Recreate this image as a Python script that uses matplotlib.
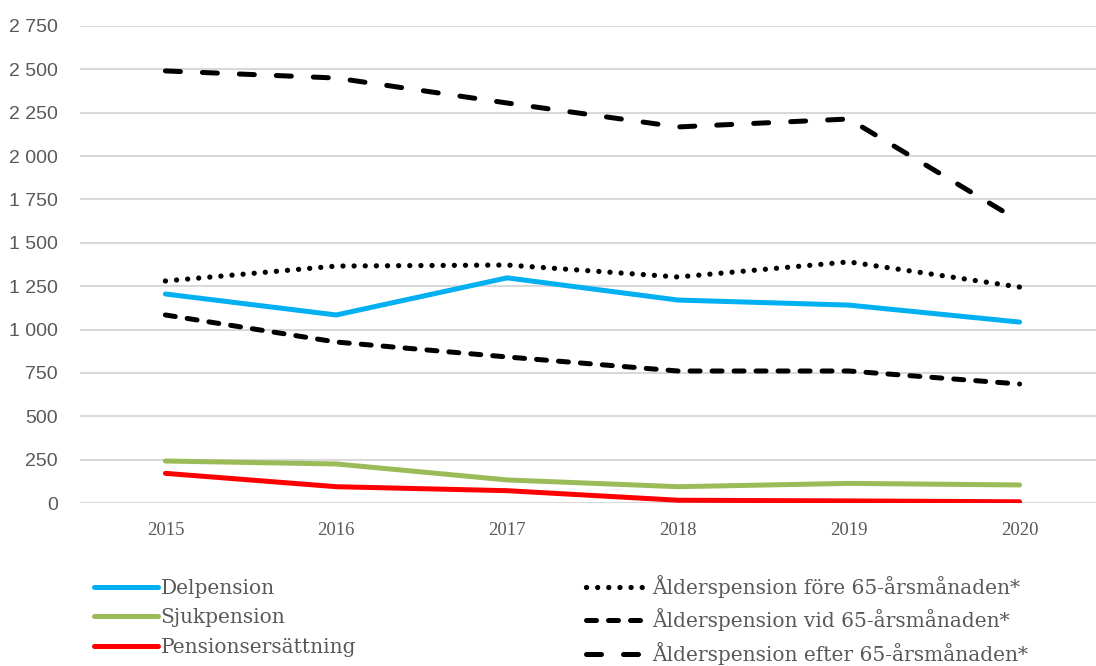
import matplotlib.pyplot as plt
from matplotlib.ticker import FuncFormatter

years = [2015, 2016, 2017, 2018, 2019, 2020]
delpension = [1205, 1084, 1298, 1170, 1141, 1043]
sjukpension = [242, 225, 133, 94, 113, 104]
pensionsersattning = [171, 94, 71, 16, 12, 7]
fore_65 = [1280, 1366, 1372, 1303, 1390, 1245]
vid_65 = [1084, 928, 842, 761, 761, 686]
efter_65 = [2491, 2450, 2306, 2168, 2214, 1625]
yticks = list(range(0, 2751, 250))

fig = plt.figure(figsize=(10.96, 6.66), dpi=100)
ax = fig.add_axes([80 / 1096, 163 / 666, 1025 / 1096, 477 / 666])

lw = 3.6
h_del, = ax.plot(years, delpension, color='#00B0F0', lw=lw, solid_capstyle='round',
                 solid_joinstyle='round', label='Delpension')
h_sjuk, = ax.plot(years, sjukpension, color='#9BBB59', lw=lw, solid_capstyle='round',
                  solid_joinstyle='round', label='Sjukpension')
h_pers, = ax.plot(years, pensionsersattning, color='#FF0000', lw=lw, solid_capstyle='round',
                  solid_joinstyle='round', label='Pensionsersättning')
h_fore, = ax.plot(years, fore_65, color='black', lw=3.8, linestyle=(0, (0.01, 2.1)),
                  dash_capstyle='round', label='Ålderspension före 65-årsmånaden*')
h_vid, = ax.plot(years, vid_65, color='black', lw=lw, linestyle=(0, (2.0, 2.4)),
                 dash_capstyle='round', label='Ålderspension vid 65-årsmånaden*')
h_eft, = ax.plot(years, efter_65, color='black', lw=lw, linestyle=(0, (3.0, 4.4)),
                 dash_capstyle='round', label='Ålderspension efter 65-årsmånaden*')

ax.set_xlim(2014.5, 2020.5)
ax.set_ylim(0, 2750)
ax.set_xticks(years)
ax.set_yticks(yticks)
ax.yaxis.set_major_formatter(FuncFormatter(lambda v, p: '{:,}'.format(int(v)).replace(',', ' ')))
ax.grid(axis='y', color='#d9d9d9', lw=1.5)
ax.set_axisbelow(True)
for s in ax.spines.values():
    s.set_visible(False)
ax.tick_params(length=0)
ax.tick_params(axis='y', pad=16, labelcolor='#595959', labelsize=14,
               labelfontfamily='Liberation Sans')
ax.tick_params(axis='x', pad=14, labelcolor='#595959', labelsize=13.5,
               labelfontfamily='Liberation Serif')

leg = fig.legend(handles=[h_del, h_sjuk, h_pers, h_fore, h_vid, h_eft], ncol=2,
                 loc='upper left', bbox_to_anchor=(94 / 1096, 1 - 575 / 666),
                 frameon=False, prop={'family': 'DejaVu Serif', 'size': 14.5},
                 borderpad=0, borderaxespad=0, handlelength=3.2, handletextpad=0.1,
                 labelspacing=0.52, columnspacing=11.4, labelcolor='#595959')

fig.savefig('out.png', dpi=100)
